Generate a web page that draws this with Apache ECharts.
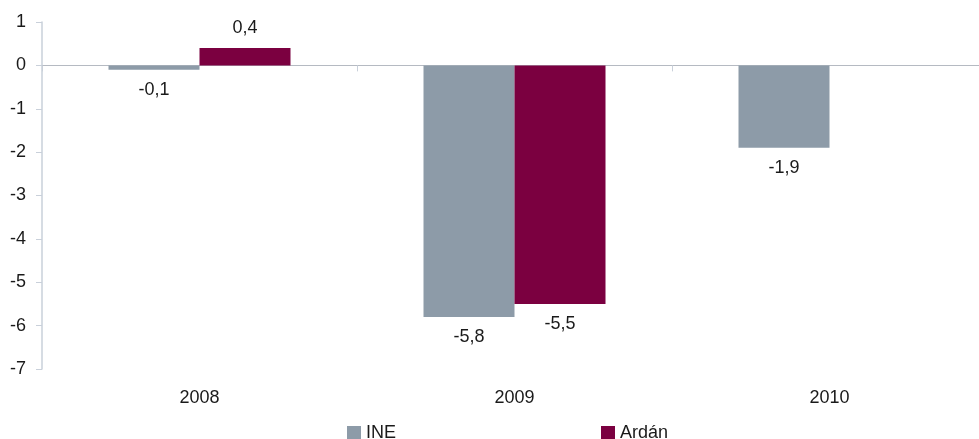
<!DOCTYPE html>
<html>
<head>
<meta charset="utf-8">
<style>
html,body{margin:0;padding:0;background:#fff;overflow:hidden;width:979px;height:439px;}
#chart{width:987px;height:439px;}
</style>
<script src="https://cdn.jsdelivr.net/npm/echarts@6/dist/echarts.min.js"></script>
</head>
<body>
<div id="chart"></div>
<script>
const categories = ['2008', '2009', '2010'];
const ineValues = [-0.1, -5.8, -1.9];
const ardanValues = [0.4, -5.5, null];
const yTicks = [1, 0, -1, -2, -3, -4, -5, -6, -7];

const fontFamily = '"Liberation Sans", Arial, sans-serif';
const textColor = '#1a1a1a';

function fmt(v) { return String(v).replace('.', ','); }

function buildData(values) {
  return values.map(v => v === null ? null : {
    value: v,
    label: { position: v >= 0 ? 'top' : 'bottom' }
  });
}

const chart = echarts.init(document.getElementById('chart'), null, { renderer: 'canvas' });
chart.setOption({
  animation: false,
  backgroundColor: '#ffffff',
  textStyle: { fontFamily: fontFamily },
  grid: { left: 42, top: 22, right: 0, bottom: 70, containLabel: false },
  legend: {
    left: 347, top: 424, padding: 0,
    itemWidth: 14, itemHeight: 14, itemGap: 205,
    icon: 'rect',
    textStyle: { fontSize: 18, color: textColor, fontFamily: fontFamily },
    data: ['INE', 'Ardán']
  },
  xAxis: [
    {
      type: 'category', data: categories, position: 'bottom',
      axisLine: { show: false, onZero: false },
      axisTick: { show: false },
      axisLabel: { fontSize: 18, color: textColor, margin: 20, fontFamily: fontFamily }
    },
    {
      type: 'category', data: categories, position: 'bottom',
      axisLine: { show: true, onZero: true, lineStyle: { color: '#b5bac2', width: 1 } },
      axisTick: { show: true, length: 6, lineStyle: { color: '#c9d0da' } },
      axisLabel: { show: false }
    }
  ],
  yAxis: {
    type: 'value', min: -7, max: 1, interval: 1,
    axisLine: { show: true, lineStyle: { color: '#c9d0da', width: 1.5 } },
    axisTick: { show: true, length: 6, lineStyle: { color: '#c9d0da' } },
    splitLine: { show: false },
    axisLabel: { fontSize: 18, color: textColor, margin: 16, fontFamily: fontFamily,
      formatter: v => yTicks.includes(v) ? fmt(v) : '' }
  },
  series: [
    {
      name: 'INE', type: 'bar', xAxisIndex: 0, barWidth: 91, barGap: 0,
      itemStyle: { color: '#8d9ba8' },
      label: { show: true, fontSize: 18, color: textColor, distance: 11, fontFamily: fontFamily,
        formatter: p => fmt(p.value) },
      data: buildData(ineValues)
    },
    {
      name: 'Ardán', type: 'bar', xAxisIndex: 0, barWidth: 91, barGap: 0,
      itemStyle: { color: '#7b0040' },
      label: { show: true, fontSize: 18, color: textColor, distance: 11, fontFamily: fontFamily,
        formatter: p => fmt(p.value) },
      data: buildData(ardanValues)
    }
  ]
});
</script>
</body>
</html>
